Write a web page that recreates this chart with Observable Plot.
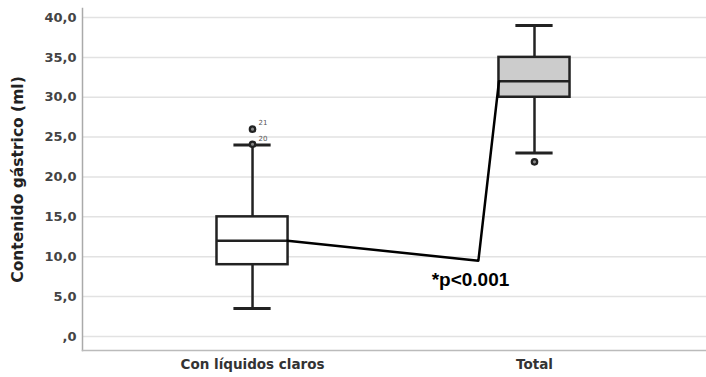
<!DOCTYPE html>
<html><head><meta charset="utf-8">
<script src="https://cdn.jsdelivr.net/npm/d3@7"></script>
<script src="https://cdn.jsdelivr.net/npm/@observablehq/plot@0.6"></script>
<style>body{margin:0;background:#fff;} svg{font-family:"DejaVu Sans",sans-serif;}</style>
</head><body><div id="chart"></div>
<script>
// categories and positions
const categories = ["Con líquidos claros", "Total"];
const catPos = [1, 2];
// box statistics
const q1 = [9, 30];
const median = [12, 32];
const q3 = [15, 35];
const whiskerLo = [3.5, 23];
const whiskerHi = [24, 39];
const boxFill = ["#ffffff", "#cccccc"];
// outliers
const outlierCat = [1, 1, 2];
const outlierVal = [24.1, 26, 21.9];
const outlierLabel = ["20", "21", ""];
// significance annotation path (x position, value)
const annotX = [1.124, 1.801, 1.874];
const annotY = [12, 9.5, 32];
const annotText = "*p<0.001";
const annotTextPos = [1.773, 7.1];
// y ticks
const yTicks = [0, 5, 10, 15, 20, 25, 30, 35, 40];
const yTickLabels = [",0", "5,0", "10,0", "15,0", "20,0", "25,0", "30,0", "35,0", "40,0"];
const yLabel = "Contenido gástrico (ml)";

const boxes = categories.map((c, i) => ({c, x: catPos[i], q1: q1[i], med: median[i], q3: q3[i], lo: whiskerLo[i], hi: whiskerHi[i], fill: boxFill[i]}));
const outliers = outlierVal.map((v, i) => ({x: outlierCat[i], y: v, label: outlierLabel[i]}));
const annot = annotX.map((x, i) => ({x, y: annotY[i]}));
const bw = 0.126, cw = 0.066;

const chart = Plot.plot({
  width: 706, height: 377,
  marginLeft: 82, marginRight: 0, marginTop: 8, marginBottom: 27,
  x: {domain: [0.397, 2.61]},
  y: {domain: [-1.76, 41.13]},
  style: {fontFamily: "DejaVu Sans, sans-serif"},
  marks: [
    Plot.ruleY(yTicks, {stroke: "#e2e2e2", strokeWidth: 1.5}),
    Plot.axisY({ticks: yTicks, tickFormat: d => yTickLabels[yTicks.indexOf(d)], tickSize: 0, tickPadding: 6,
      fontSize: 13, fontWeight: "bold", fill: "#444", label: null}),
    Plot.text([yLabel], {frameAnchor: "left", text: d => d, rotate: -90, dx: -64, textAnchor: "middle", fontSize: 15.5, fontWeight: "bold", fill: "#222"}),
    Plot.axisX({ticks: catPos, tickFormat: d => categories[catPos.indexOf(d)], tickSize: 0, tickPadding: 9,
      fontSize: 13.5, fontWeight: 600, fill: "#333", label: null}),
    Plot.frame({anchor: "left", stroke: "#aaa", strokeWidth: 1.5}),
    Plot.frame({anchor: "bottom", stroke: "#bbb", strokeWidth: 1.5}),
    Plot.ruleX(boxes, {x: "x", y1: "q3", y2: "hi", stroke: "#222", strokeWidth: 2.5}),
    Plot.ruleX(boxes, {x: "x", y1: "lo", y2: "q1", stroke: "#222", strokeWidth: 2.5}),
    Plot.ruleY(boxes, {y: "hi", x1: d => d.x - cw, x2: d => d.x + cw, stroke: "#222", strokeWidth: 3}),
    Plot.ruleY(boxes, {y: "lo", x1: d => d.x - cw, x2: d => d.x + cw, stroke: "#222", strokeWidth: 3}),
    Plot.rect(boxes, {x1: d => d.x - bw, x2: d => d.x + bw, y1: "q1", y2: "q3", fill: "fill", stroke: "#222", strokeWidth: 2.5}),
    Plot.ruleY(boxes, {y: "med", x1: d => d.x - bw, x2: d => d.x + bw, stroke: "#222", strokeWidth: 2.5}),
    Plot.dot(outliers, {x: "x", y: "y", r: 2.7, stroke: "#222", strokeWidth: 2.3, fill: "#888"}),
    Plot.text(outliers, {x: "x", y: "y", text: "label", dx: 6, dy: -6, fontSize: 7, fill: "#555", textAnchor: "start"}),
    Plot.line(annot, {x: "x", y: "y", stroke: "#000", strokeWidth: 2.5}),
    Plot.text([annotText], {x: annotTextPos[0], y: annotTextPos[1], text: d => d, fontSize: 19, fontWeight: "bold", fill: "#000", fontFamily: "Liberation Sans, Arial, sans-serif"})
  ]
});
document.getElementById("chart").appendChild(chart);
</script></body></html>
